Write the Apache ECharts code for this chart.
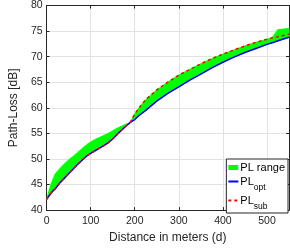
<!DOCTYPE html>
<html><head><meta charset="utf-8">
<script src="https://cdn.jsdelivr.net/npm/echarts@6/dist/echarts.min.js"></script>
<style>html,body{margin:0;padding:0;background:#fff}#c{width:290px;height:249px}</style>
</head><body><div id="c"></div>
<script>
// Distances (m)
var distances = [0,5,10,15,20,30,40,50,60,70,80,90,100,110,120,130,140,150,160,170,180,190,200,210,225,250,275,300,325,350,375,400,425,450,475,500,512,525,550];
// PL_opt (lower curve, blue)
var plOpt = [42.1,42.7,43.3,43.8,44.2,45.3,46.2,47.1,48.0,48.9,49.7,50.5,51.1,51.6,52.1,52.6,53.2,53.9,54.8,55.6,56.4,57.15,57.7,58.5,59.5,61.3,62.8,64.1,65.4,66.6,67.8,68.9,69.9,70.8,71.6,72.4,72.7,73.1,73.8];
// PL_sub (red dashed)
var plSub = [42.1,42.7,43.3,43.8,44.2,45.3,46.2,47.1,48.0,48.9,49.7,50.5,51.1,51.6,52.1,52.6,53.2,53.9,54.8,55.6,56.4,57.15,58.8,60.0,61.6,63.5,65.0,66.4,67.5,68.6,69.6,70.5,71.3,72.1,72.8,73.4,73.7,73.9,74.4];
// Upper edge of PL range (green band)
var rangeUpper = [42.1,43.6,45.0,46.1,47.1,48.1,49.0,49.8,50.5,51.2,52.0,52.7,53.3,53.8,54.2,54.6,55.0,55.5,56.0,56.4,56.8,57.15,58.8,60.0,61.6,63.5,65.0,66.4,67.5,68.6,69.6,70.5,71.3,72.1,72.8,73.4,73.7,75.3,75.5];
var xTicks = [0,100,200,300,400,500];
var yTicks = [40,45,50,55,60,65,70,75,80];

var F = 'Liberation Sans';
var axisCol = '#262626';
function pairs(v){ return distances.map(function(d,i){ return [d, v[i]]; }); }

var chart = echarts.init(document.getElementById('c'), null, {renderer:'canvas'});
var xCommon = {type:'value', min:0, max:550, interval:100,
  axisLine:{show:true, onZero:false, lineStyle:{color:axisCol, width:1}},
  axisTick:{show:true, inside:true, length:3, lineStyle:{color:axisCol}}};
var yCommon = {type:'value', min:40, max:80, interval:5,
  axisLine:{show:true, onZero:false, lineStyle:{color:axisCol, width:1}},
  axisTick:{show:true, inside:true, length:3, lineStyle:{color:axisCol}}};
chart.setOption({
  animation:false,
  textStyle:{fontFamily:F},
  grid:{left:29, right:1, top:4, bottom:34, containLabel:false},
  xAxis:[
    Object.assign({}, xCommon, {position:'bottom',
      name:'Distance in meters (d)', nameLocation:'middle', nameGap:20,
      nameTextStyle:{fontFamily:F, fontSize:12, color:axisCol},
      axisLabel:{show:true, margin:6, fontFamily:F, fontSize:10.5, color:axisCol, showMaxLabel:false,
        formatter:function(v){ return xTicks.indexOf(v)>=0 ? String(v) : ''; }},
      splitLine:{show:true, lineStyle:{color:'#e2e2e2', width:1}}}),
    Object.assign({}, xCommon, {position:'top', axisLabel:{show:false}, splitLine:{show:false}})
  ],
  yAxis:[
    Object.assign({}, yCommon, {position:'left',
      name:'Path-Loss [dB]', nameLocation:'middle', nameGap:17,
      nameTextStyle:{fontFamily:F, fontSize:12, color:axisCol},
      axisLabel:{show:true, margin:4, fontFamily:F, fontSize:10.5, color:axisCol,
        formatter:function(v){ return yTicks.indexOf(v)>=0 ? String(v) : ''; }},
      splitLine:{show:true, lineStyle:{color:'#e2e2e2', width:1}}}),
    Object.assign({}, yCommon, {position:'right', axisLabel:{show:false}, splitLine:{show:false}})
  ],
  legend:{
    orient:'vertical', right:2, bottom:36,
    backgroundColor:'#fff', borderColor:axisCol, borderWidth:1, borderRadius:0,
    padding:[3,3,2,1], itemGap:3, itemWidth:10, itemHeight:5,
    data:[{name:'PL range', icon:'rect'},
          {name:'PLopt', itemStyle:{opacity:0}},
          {name:'PLsub', itemStyle:{opacity:0}}],
    formatter:function(n){
      if(n==='PLopt') return '{m|PL}{s|opt}';
      if(n==='PLsub') return '{m|PL}{s|sub}';
      return '{m|PL range}';
    },
    textStyle:{fontFamily:F, color:'#000', padding:[0,0,0,-3],
      rich:{ m:{fontSize:11, fontFamily:F, color:'#000', verticalAlign:'top', lineHeight:11},
             s:{fontSize:8.5, fontFamily:F, color:'#000', verticalAlign:'top', padding:[7,0,0,0], lineHeight:9} }}
  },
  series:[
    {name:'PL range', type:'custom', data:[[0,0]], silent:true, z:2,
      itemStyle:{color:'#00ff00'},
      renderItem:function(params, api){
        var pts = [];
        for (var i=0;i<distances.length;i++) pts.push(api.coord([distances[i], rangeUpper[i]]));
        for (var j=distances.length-1;j>=0;j--) pts.push(api.coord([distances[j], plOpt[j]]));
        return {type:'polygon', shape:{points:pts},
          style:{fill:'#00ff00', stroke:'#00ff00', lineWidth:1}};
      }},
    {name:'PLopt', type:'line', data:pairs(plOpt), symbol:'none',
      lineStyle:{color:'#0000ff', width:1.5}, itemStyle:{color:'#0000ff'}, z:3},
    {name:'PLsub', type:'line', data:pairs(plSub), symbol:'none',
      lineStyle:{color:'#ff0000', width:1.5, type:[3,3]}, itemStyle:{color:'#ff0000'}, z:4}
  ]
});
</script></body></html>
